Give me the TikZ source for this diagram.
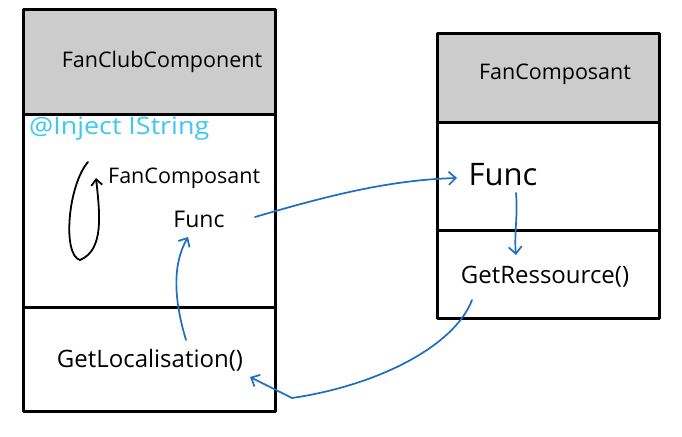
\documentclass[tikz,border=0pt]{standalone}
\usepackage{fontspec}
\setmainfont{Open Sans}
\usetikzlibrary{arrows.meta}
\definecolor{hdr}{HTML}{CCCCCC}
\definecolor{lnblue}{HTML}{1B6EC2}
\definecolor{cyantxt}{HTML}{3CC8F2}
\tikzset{
  box/.style={draw=black, line width=3pt, line join=round},
  hdrbox/.style={box, fill=hdr},
  lbl/.style={inner sep=0pt, anchor=center, text=black},
  conn/.style={draw=lnblue, line width=1.7pt, line cap=round, -{Straight Barb[length=7pt,width=13pt,line width=1.7pt]}},
  loopc/.style={draw=black, line width=1.8pt, line cap=round, -{Straight Barb[length=6pt,width=11pt,line width=1.8pt]}}
}
\begin{document}
\begin{tikzpicture}[x=1pt,y=-1pt]
\useasboundingbox (0,0) rectangle (682,436);
\fill[white] (0,0) rectangle (682,436);
% left box
\draw[hdrbox] (23,10) rectangle (275,114);
\draw[box] (23,114) rectangle (275,307);
\draw[box] (23,307) rectangle (275,411);
% right box
\draw[hdrbox] (437,34) rectangle (659,122);
\draw[box] (437,122) rectangle (659,230);
\draw[box] (437,230) rectangle (659,318);
% texts
\node[lbl, font=\fontsize{21.5}{24}\selectfont] (fcc) at (162,62) {FanClubComponent};
\node[lbl, font=\fontsize{24}{27}\selectfont, text=cyantxt, anchor=west] (inj) at (29,129) {\scalebox{1.12}[1]{@Inject IString}};
\node[lbl, font=\fontsize{21.5}{24}\selectfont, anchor=west] (fcomp) at (108,178) {FanComposant};
\node[lbl, font=\fontsize{23}{26}\selectfont] (funcA) at (199,219) {Func};
\node[lbl, font=\fontsize{24}{27}\selectfont] (getloc) at (150,360) {GetLocalisation()};
\node[lbl, font=\fontsize{21.5}{24}\selectfont] (fc) at (555,74) {FanComposant};
\node[lbl, font=\fontsize{31}{35}\selectfont] (funcB) at (503,175) {Func};
\node[lbl, font=\fontsize{24}{27}\selectfont] (getres) at (545,277) {GetRessource()};
% loop arrow beside FanComposant
\coordinate (loopS) at ([shift={(-20,-16)}]fcomp.west);
\coordinate (loopE) at ([shift={(-12,0)}]fcomp.west);
\draw[loopc] (loopS) .. controls (68,185) and (62,255) .. (80,260)
  .. controls (104,250) and (100,215) .. (loopE);
% connectors
\draw[conn] ([shift={(56,-2)}]funcA.center) .. controls (330,195) and (390,180) .. ([shift={(-46,3)}]funcB.center);
\draw[conn] ([shift={(13,18)}]funcB.center) .. controls (518,215) and (514,235) .. ([shift={(-29,-22)}]getres.center);
\draw[conn] ([shift={(-73,23)}]getres.center) .. controls (455,345) and (380,385) .. (292,398)
  -- ([shift={(100,17)}]getloc.center);
\draw[conn] ([shift={(36,-20)}]getloc.center) .. controls (174,300) and (172,265) .. ([shift={(-11,18)}]funcA.center);
\end{tikzpicture}
\end{document}
